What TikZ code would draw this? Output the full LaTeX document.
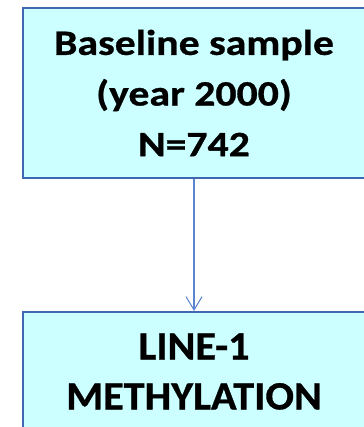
\documentclass[tikz,border=0pt]{standalone}
\usepackage{fontspec}
\setmainfont{Carlito}
\newfontfamily\widefont[FakeStretch=1.168,FakeBold=0.8]{Carlito}
\newfontfamily\lowfont[FakeStretch=1.055,FakeBold=0.8]{Carlito}
\usetikzlibrary{arrows.meta}
\definecolor{boxfill}{HTML}{CCFFFF}
\definecolor{boxline}{HTML}{4068B0}
\definecolor{arrowline}{HTML}{5A85D0}
\tikzset{
  flowbox/.style={draw=boxline, line width=1.5pt, fill=boxfill, rectangle,
    minimum width=256.5pt, inner sep=0pt, align=center},
  flowarrow/.style={draw=arrowline, line width=0.8pt,
    -{Straight Barb[length=10pt,width=12pt,line width=0.8pt]}}
}
\begin{document}
\begin{tikzpicture}[x=0.75pt,y=-0.75pt]
\useasboundingbox (0,0) rectangle (363,427);
\node[flowbox, minimum height=127.5pt,
  font=\widefont\bfseries\fontsize{26.8pt}{38pt}\selectfont] (base) at (194,93)
  {Baseline sample\\(year 2000)\\N=742};
\node[flowbox, minimum height=89.25pt,
  font=\lowfont\bfseries\fontsize{30pt}{37.5pt}\selectfont] (line) at (194,371.5)
  {LINE-1\\METHYLATION};
\draw[flowarrow] (base.south) -- (line.north);
\end{tikzpicture}
\end{document}
